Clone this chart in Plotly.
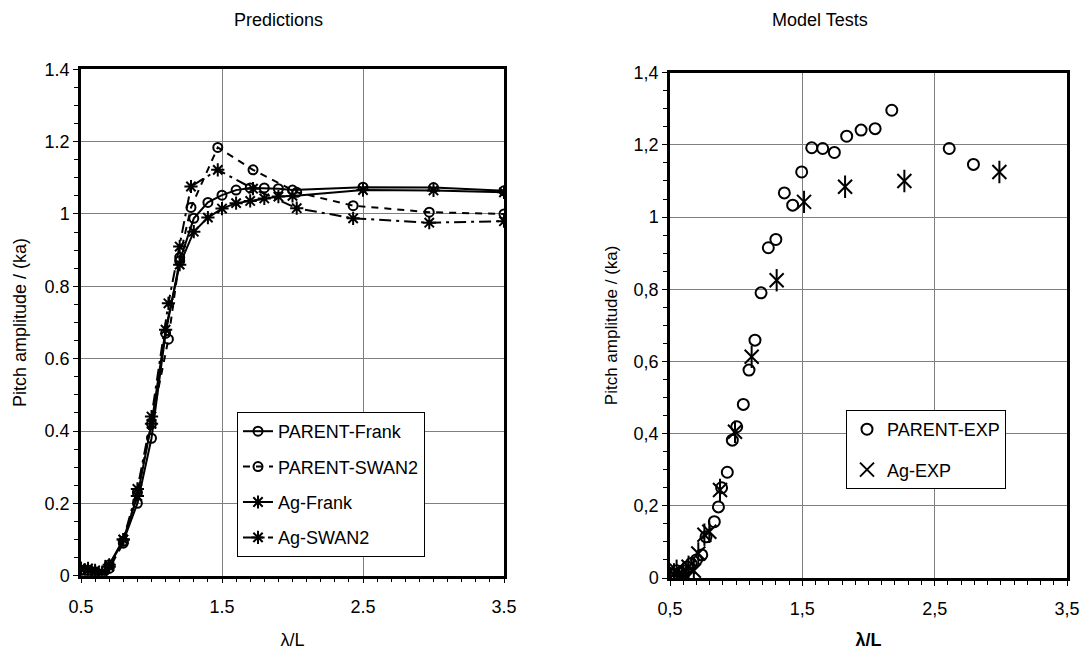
import plotly.graph_objects as go

# ---------------- data ----------------
X_FRANK = [0.50, 0.55, 0.60, 0.65, 0.70, 0.80, 0.90, 1.00, 1.10, 1.20, 1.30, 1.40,
           1.50, 1.60, 1.70, 1.80, 1.90, 2.00, 2.50, 3.00, 3.50]
PARENT_FRANK = [0.015, 0.015, 0.010, 0.005, 0.030, 0.095, 0.200, 0.380, 0.670, 0.870, 0.988,
                1.032, 1.052, 1.066, 1.072, 1.072, 1.070, 1.066, 1.074, 1.073, 1.064]
AG_FRANK = [0.020, 0.020, 0.015, 0.010, 0.030, 0.100, 0.220, 0.420, 0.680, 0.860, 0.951,
            0.990, 1.015, 1.030, 1.036, 1.043, 1.048, 1.050, 1.066, 1.065, 1.060]

X_SWAN = [0.50, 0.55, 0.60, 0.65, 0.70, 0.80, 0.90, 1.00, 1.12, 1.20, 1.28, 1.47,
          1.72, 2.03, 2.43, 2.97, 3.50]
PARENT_SWAN = [0.015, 0.010, 0.010, 0.000, 0.020, 0.090, 0.230, 0.420, 0.654, 0.880, 1.018,
               1.184, 1.122, 1.060, 1.023, 1.005, 1.000]
AG_SWAN = [0.020, 0.015, 0.010, 0.005, 0.025, 0.100, 0.240, 0.440, 0.753, 0.910, 1.076,
           1.122, 1.070, 1.016, 0.988, 0.976, 0.980]

PARENT_EXP_X = [0.52, 0.55, 0.58, 0.60, 0.63, 0.66, 0.70, 0.74, 0.772, 0.835, 0.866, 0.89,
                0.933, 0.971, 1.004, 1.054, 1.097, 1.142, 1.188, 1.243, 1.30, 1.364, 1.427,
                1.495, 1.571, 1.654, 1.742, 1.835, 1.944, 2.05, 2.176, 2.61, 2.793]
PARENT_EXP_Y = [0.010, 0.020, 0.015, 0.020, 0.030, 0.040, 0.050, 0.064, 0.114, 0.156, 0.197,
                0.250, 0.293, 0.382, 0.419, 0.481, 0.576, 0.659, 0.790, 0.915, 0.938, 1.067,
                1.033, 1.125, 1.192, 1.190, 1.179, 1.224, 1.241, 1.245, 1.296, 1.190, 1.146]

AG_EXP_X = [0.50, 0.53, 0.55, 0.57, 0.60, 0.62, 0.64, 0.68, 0.714, 0.76, 0.797, 0.878,
            0.991, 1.117, 1.306, 1.513, 1.823, 2.271, 2.989]
AG_EXP_Y = [0.000, 0.010, 0.020, 0.005, 0.010, 0.000, 0.031, 0.020, 0.068, 0.120, 0.128,
            0.244, 0.405, 0.613, 0.825, 1.042, 1.084, 1.100, 1.125]

X_TICKS = [0.5, 1.5, 2.5, 3.5]
Y_TICKS = [0, 0.2, 0.4, 0.6, 0.8, 1.0, 1.2, 1.4]
Y_TICKTEXT_LEFT = ["0", "0.2", "0.4", "0.6", "0.8", "1", "1.2", "1.4"]
X_TICKTEXT_LEFT = ["0.5", "1.5", "2.5", "3.5"]
Y_TICKTEXT_RIGHT = ["0", "0,2", "0,4", "0,6", "0,8", "1", "1,2", "1,4"]
X_TICKTEXT_RIGHT = ["0,5", "1,5", "2,5", "3,5"]

FONT = "Liberation Sans, Arial, sans-serif"
BLACK = "black"
FS = 18

fig = go.Figure()

# ---------------- left: predictions ----------------
fig.add_trace(go.Scatter(
    x=X_FRANK, y=PARENT_FRANK, mode="lines+markers", name="PARENT-Frank",
    line=dict(color=BLACK, width=2), legendgroup="a",
    marker=dict(symbol="circle-open", size=9, color=BLACK, line=dict(width=2)),
    xaxis="x", yaxis="y", legend="legend"))
fig.add_trace(go.Scatter(
    x=X_SWAN, y=PARENT_SWAN, mode="lines+markers", name="PARENT-SWAN2",
    line=dict(color=BLACK, width=2, dash="7px,6px"), legendgroup="b",
    marker=dict(symbol="circle-open", size=9, color=BLACK, line=dict(width=2)),
    xaxis="x", yaxis="y", legend="legend"))
fig.add_trace(go.Scatter(
    x=X_FRANK, y=AG_FRANK, mode="lines+markers", name="Ag-Frank",
    line=dict(color=BLACK, width=2), legendgroup="c",
    marker=dict(symbol="asterisk-open", size=11, color=BLACK, line=dict(width=2)),
    xaxis="x", yaxis="y", legend="legend"))
fig.add_trace(go.Scatter(
    x=X_SWAN, y=AG_SWAN, mode="lines+markers", name="Ag-SWAN2",
    line=dict(color=BLACK, width=2, dash="12px,5px,3px,5px"), legendgroup="d",
    marker=dict(symbol="asterisk-open", size=11, color=BLACK, line=dict(width=2)),
    xaxis="x", yaxis="y", legend="legend"))

# ---------------- right: model tests ----------------
fig.add_trace(go.Scatter(
    x=PARENT_EXP_X, y=PARENT_EXP_Y, mode="markers", name="PARENT-EXP",
    marker=dict(symbol="circle-open", size=11, color=BLACK, line=dict(width=2)),
    legendgroup="e", xaxis="x2", yaxis="y2", legend="legend2"))
fig.add_trace(go.Scatter(
    x=AG_EXP_X, y=AG_EXP_Y, mode="markers", name="Ag-EXP",
    marker=dict(symbol="x-thin-open", size=14, color=BLACK, line=dict(width=2)),
    legendgroup="f", xaxis="x2", yaxis="y2", legend="legend2"))
fig.add_trace(go.Scatter(
    x=AG_EXP_X, y=AG_EXP_Y, mode="markers", name="Ag-EXP", showlegend=False,
    marker=dict(symbol="line-ns-open", size=16, color=BLACK, line=dict(width=2)),
    legendgroup="f", xaxis="x2", yaxis="y2", legend="legend2"))

axis_common = dict(
    showline=True, linecolor=BLACK, linewidth=2.5, mirror=True,
    showgrid=True, gridcolor="#7f7f7f", gridwidth=1, automargin=False,
    zeroline=False, ticks="outside", ticklen=5, tickcolor=BLACK, tickwidth=1,
    tickfont=dict(family=FONT, size=FS, color=BLACK),
)
minor_x = dict(dtick=0.1, tick0=0.5, ticks="outside", ticklen=4, tickcolor=BLACK, showgrid=False)
minor_y = dict(dtick=0.05, tick0=0, ticks="outside", ticklen=4, tickcolor=BLACK, showgrid=False)

fig.update_layout(
    width=1084, height=650,
    margin=dict(l=0, r=0, t=0, b=0),
    paper_bgcolor="white", plot_bgcolor="white",
    font=dict(family=FONT, size=FS, color=BLACK),
    xaxis=dict(domain=[81/1084, 504/1084], range=[0.5, 3.5], anchor="y",
               tickvals=X_TICKS, ticktext=X_TICKTEXT_LEFT, minor=minor_x,
               ticklabelstandoff=8,
               title=dict(text="λ/L", font=dict(family=FONT, size=FS), standoff=19),
               **axis_common),
    yaxis=dict(domain=[74.3/650, 580.7/650], range=[0, 1.4], anchor="x",
               tickvals=Y_TICKS, ticktext=Y_TICKTEXT_LEFT, minor=minor_y,
               title=dict(text="Pitch amplitude / (ka)", font=dict(family=FONT, size=FS), standoff=14),
               **axis_common),
    xaxis2=dict(domain=[670/1084, 1067/1084], range=[0.5, 3.5], anchor="y2",
                tickvals=X_TICKS, ticktext=X_TICKTEXT_RIGHT, minor=minor_x,
                ticklabelstandoff=8,
                title=dict(text="<b>λ/L</b>", font=dict(family=FONT, size=FS), standoff=19),
                **axis_common),
    yaxis2=dict(domain=[72/650, 577.3/650], range=[0, 1.4], anchor="x2",
                tickvals=Y_TICKS, ticktext=Y_TICKTEXT_RIGHT, minor=minor_y,
                title=dict(text="Pitch amplitude / (ka)", font=dict(family=FONT, size=FS - 1), standoff=12),
                **axis_common),
    legend=dict(x=237/1084, y=1 - 412/650, xanchor="left", yanchor="top",
                bgcolor="white", bordercolor=BLACK, borderwidth=1,
                font=dict(family=FONT, size=FS, color=BLACK),
                traceorder="grouped", tracegroupgap=9),
    legend2=dict(x=846/1084, y=1 - 410/650, xanchor="left", yanchor="top",
                 bgcolor="white", bordercolor=BLACK, borderwidth=1,
                 font=dict(family=FONT, size=FS, color=BLACK),
                 traceorder="grouped", tracegroupgap=14),
    annotations=[
        dict(text="Predictions", x=278/1084, y=1 - 20/650, xref="paper", yref="paper",
             xanchor="center", yanchor="middle",
             showarrow=False, font=dict(family=FONT, size=FS, color=BLACK)),
        dict(text="Model Tests", x=820/1084, y=1 - 20/650, xref="paper", yref="paper",
             xanchor="center", yanchor="middle",
             showarrow=False, font=dict(family=FONT, size=FS, color=BLACK)),
    ],
)

fig.write_html("out.html")
